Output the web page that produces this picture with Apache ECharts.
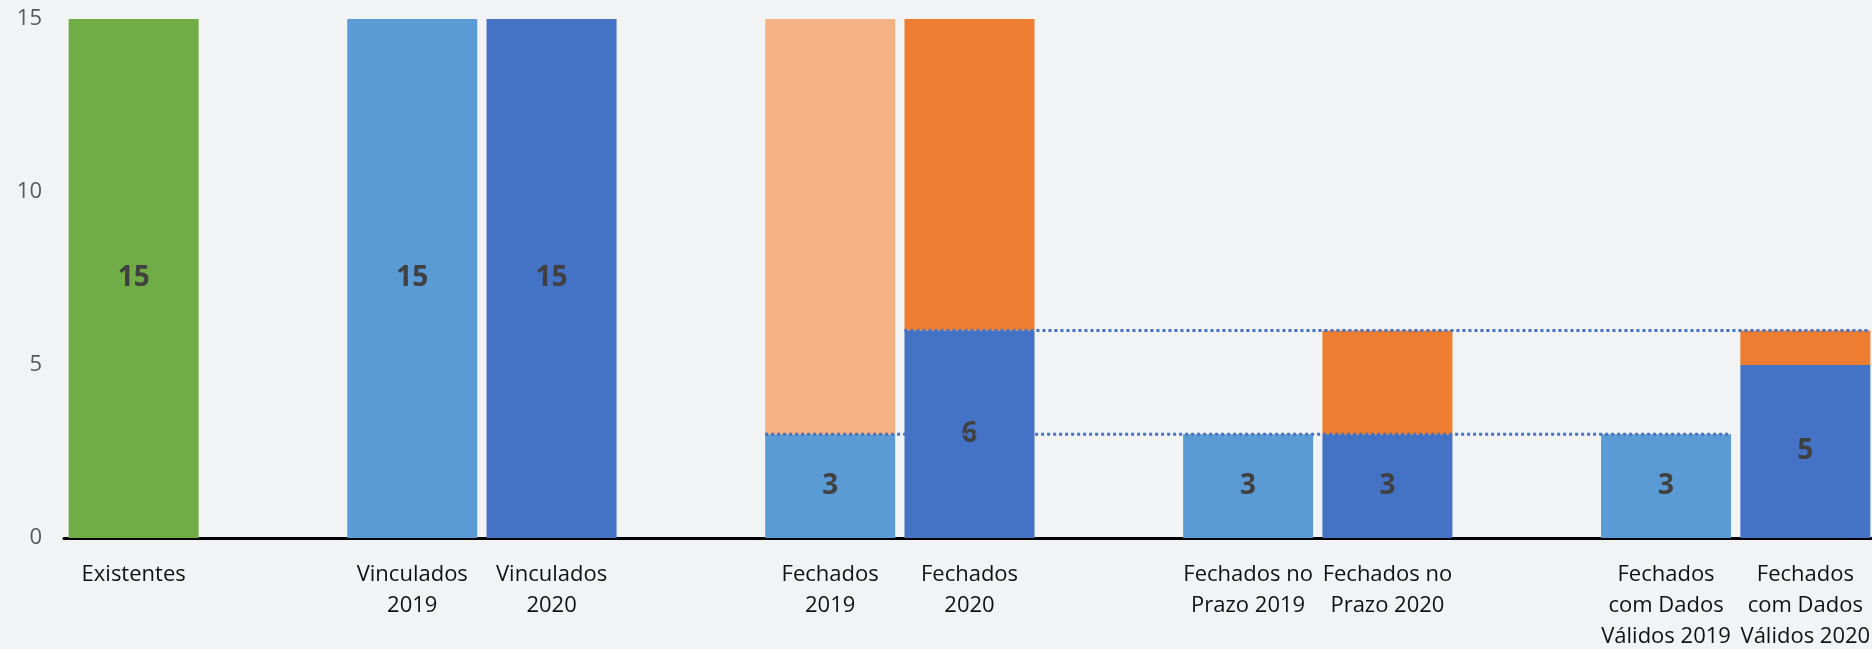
<!DOCTYPE html>
<html>
<head>
<meta charset="utf-8">
<script src="https://cdn.jsdelivr.net/npm/echarts@6/dist/echarts.min.js"></script>
<style>
  html, body { margin: 0; padding: 0; background: #F2F3F5; }
  #main { width: 1872px; height: 649px; }
</style>
</head>
<body>
<div id="main"></div>
<script>
// categories ('' = empty spacer slot)
const categories = [
  'Existentes', '',
  'Vinculados\n2019', 'Vinculados\n2020', '',
  'Fechados\n2019', 'Fechados\n2020', '',
  'Fechados no\nPrazo 2019', 'Fechados no\nPrazo 2020', '',
  'Fechados\ncom Dados\nVálidos 2019', 'Fechados\ncom Dados\nVálidos 2020'
];
const existentes = [15, '-', '-', '-', '-', '-', '-', '-', '-', '-', '-', '-', '-'];
const values2019 = ['-', '-', 15, '-', '-', 3, '-', '-', 3, '-', '-', 3, '-'];
const values2020 = ['-', '-', '-', 15, '-', '-', 6, '-', '-', 3, '-', '-', 5];
const rest2019 = ['-', '-', '-', '-', '-', 12, '-', '-', '-', '-', '-', '-', '-'];
const rest2020 = ['-', '-', '-', '-', '-', '-', 9, '-', '-', 3, '-', '-', 1];
// dotted reference lines: [value, first category index, last category index]
const refLines = [[3, 5, 11], [6, 6, 12]];
const yTicks = [0, 5, 10, 15];

const barHalf = 0.467;
const font = 'Open Sans';

const dataLabel = {
  show: true,
  position: 'inside',
  color: '#404040',
  fontWeight: 'bold',
  fontSize: 28,
  fontFamily: font
};

function bar(name, data, color, label) {
  return {
    name: name,
    type: 'bar',
    stack: 'total',
    data: data,
    barWidth: 130,
    itemStyle: { color: color },
    label: label ? dataLabel : { show: false }
  };
}

const refSeries = refLines.map(function (r) {
  return {
    type: 'line',
    xAxisIndex: 1,
    symbol: 'none',
    silent: true,
    z: 5,
    lineStyle: { color: '#4472C4', width: 3, type: [3, 3] },
    data: [[r[1] - barHalf, r[0]], [r[2] + barHalf, r[0]]]
  };
});

const chart = echarts.init(document.getElementById('main'));
chart.setOption({
  backgroundColor: '#F2F3F5',
  animation: false,
  grid: { top: 19, bottom: 111, left: 64, right: -3, outerBoundsMode: 'none', containLabel: false },
  xAxis: [{
    type: 'category',
    data: categories,
    axisTick: { show: false },
    axisLine: { show: true, lineStyle: { color: '#000', width: 3 } },
    axisLabel: {
      interval: 0,
      color: '#111',
      fontSize: 22,
      lineHeight: 31,
      margin: 21,
      fontFamily: font
    }
  }, {
    type: 'value',
    min: -0.5,
    max: categories.length - 0.5,
    show: false
  }],
  yAxis: {
    type: 'value',
    min: yTicks[0],
    max: yTicks[yTicks.length - 1],
    interval: 5,
    splitLine: { show: false },
    axisLine: { show: false },
    axisTick: { show: false },
    axisLabel: { color: '#595959', fontSize: 22, margin: 22, fontFamily: font }
  },
  series: [
    bar('Existentes', existentes, '#70AD47', true),
    bar('2019', values2019, '#5B9BD5', true),
    bar('2020', values2020, '#4472C4', true),
    bar('Restante 2019', rest2019, '#F4B183', false),
    bar('Restante 2020', rest2020, '#ED7D31', false)
  ].concat(refSeries)
});
</script>
</body>
</html>
